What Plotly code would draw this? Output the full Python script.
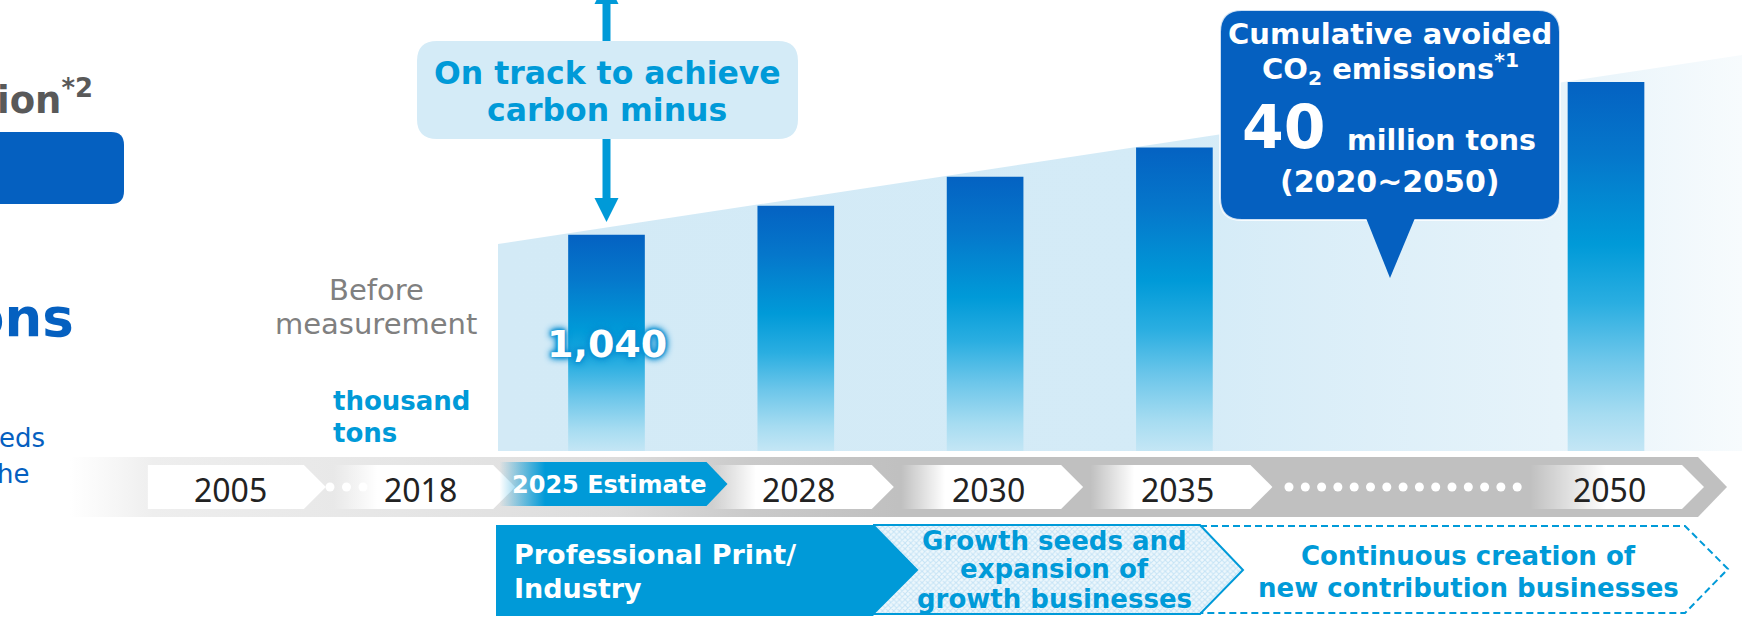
import plotly.graph_objects as go

# ---------------- data ----------------
timeline_labels = ["2005", "2018", "2025 Estimate", "2028", "2030", "2035", "2050"]
bar_categories = ["2025 Estimate", "2028", "2030", "2035", "2050"]
bar_values = [1040, 1180, 1320, 1460, 1775]          # thousand tons
bar_value_label = "1,040"
unit_lines = ["thousand", "tons"]
before_lines = ["Before", "measurement"]
callout1_lines = ["On track to achieve", "carbon minus"]
callout2_lines = ["Cumulative avoided", "CO<sub>2</sub> emissions<sup>*1</sup>", "40", "million tons", "(2020~2050)"]
phase1_lines = ["Professional Print/", "Industry"]
phase2_lines = ["Growth seeds and", "expansion of", "growth businesses"]
phase3_lines = ["Continuous creation of", "new contribution businesses"]

# ---------------- layout constants ----------------
W, H = 1742, 621
SLOT_PX = 189.3          # pixels per timeline slot
X0 = 606.5               # pixel centre of slot 0
BASE = 451               # pixel row of value 0
Y_TOP = 2170             # value at top edge of figure
SLOT = {"2005": -2, "2018": -1, "2025 Estimate": 0, "2028": 1, "2030": 2, "2035": 3, "2050": 5.28}
BAR_W = 0.405            # bar width in slots

K = Y_TOP / BASE


def sx(slot):
    return X0 + slot * SLOT_PX


BLUE = "#009ad8"
DARK = "#0560c0"
DJ = "DejaVu Sans"

fig = go.Figure()

# background area behind bars
fig.add_trace(go.Scatter(
    x=[498, 498, 1742, 1742, 498], y=[BASE, 244, 55, BASE, BASE], mode="lines", fill="toself",
    line=dict(width=0), fillgradient=dict(type="horizontal", colorscale=[
        [0, "#d3eaf6"], [0.55, "#d4ebf7"], [0.85, "#e6f3fa"], [1, "#f7fbfd"]]),
    hoverinfo="skip"))

# grey timeline band
fig.add_trace(go.Scatter(
    x=[70, 1698, 1727, 1698, 70, 70], y=[457, 457, 487, 517, 517, 457], mode="lines", fill="toself",
    line=dict(width=0), fillgradient=dict(type="horizontal", colorscale=[
        [0, "rgba(240,240,240,0)"], [0.05, "#eeeeee"], [0.2, "#e6e6e6"], [0.33, "#dcdcdc"],
        [0.41, "#cacaca"], [0.5, "#c0c0c0"], [1, "#c0c0c0"]]),
    hoverinfo="skip"))

# white chevrons for each year (left side fades in)
for lab in timeline_labels:
    if lab == "2025 Estimate":
        continue
    c = sx(SLOT[lab])
    if lab == "2005":
        left, white = c - 80, c - 80
    elif lab == "2050":
        left, white = c - 76, c
    else:
        left, white = c - 84, c - 40
    right, tip = c + 76, c + 98
    frac = (white - left) / (tip - left)
    cs = [[0, "rgba(255,255,255,0)" if frac > 0 else "white"], [max(frac, 0.001), "white"], [1, "white"]]
    fig.add_trace(go.Scatter(
        x=[left, right, tip, right, left, left], y=[465, 465, 487, 509, 509, 465], mode="lines",
        fill="toself", line=dict(width=0), fillgradient=dict(type="horizontal", colorscale=cs),
        hoverinfo="skip"))

# blue "2025 Estimate" chevron
c = sx(SLOT["2025 Estimate"])
fig.add_trace(go.Scatter(
    x=[c - 107, c + 100, c + 121, c + 100, c - 107, c - 107], y=[462, 462, 484, 506, 506, 462],
    mode="lines", fill="toself", line=dict(width=0),
    fillgradient=dict(type="horizontal", colorscale=[[0, "rgba(0,154,216,0)"], [0.2, BLUE], [1, BLUE]]),
    hoverinfo="skip"))

# dots
dots_x = [330 + 16.5 * i for i in range(3)] + [1289 + 16.3 * i for i in range(15)]
fig.add_trace(go.Scatter(x=dots_x, y=[487] * len(dots_x), mode="markers",
                         marker=dict(color="white", size=9, line=dict(width=0)), hoverinfo="skip"))

# business phase boxes
fig.add_trace(go.Scatter(
    x=[496, 873, 917, 873, 496, 496], y=[525, 525, 570, 616, 616, 525], mode="lines", fill="toself",
    fillcolor=BLUE, line=dict(width=0), hoverinfo="skip"))
fig.add_trace(go.Scatter(
    x=[873, 1200, 1243, 1200, 873, 917, 873], y=[525, 525, 570, 614, 614, 570, 525], mode="lines",
    fill="toself", fillcolor="#d9edf9",
    fillpattern=dict(shape="x", size=4, solidity=0.45, fgcolor="#9ccff0", bgcolor="#eef7fc"),
    line=dict(width=2, color=BLUE), hoverinfo="skip"))
fig.add_trace(go.Scatter(
    x=[1200, 1685, 1728, 1685, 1200], y=[526, 526, 569, 613, 613], mode="lines",
    line=dict(width=2, color=BLUE, dash="7px,4px"), hoverinfo="skip"))

# bars (data axes)
for cat, v in zip(bar_categories, bar_values):
    s = SLOT[cat]
    fig.add_trace(go.Scatter(
        x=[s - BAR_W / 2, s + BAR_W / 2, s + BAR_W / 2, s - BAR_W / 2, s - BAR_W / 2],
        y=[0, 0, v, v, 0], mode="lines", fill="toself", line=dict(width=0),
        fillgradient=dict(type="vertical", colorscale=[
            [0, "#c4e6f5"], [0.1, "#a6dcf1"], [0.25, "#6cc6ea"], [0.4, "#2aaee1"],
            [0.56, "#009ad8"], [0.8, "#0577cb"], [1, "#0462c2"]]),
        xaxis="x2", yaxis="y2", name=cat, hoverinfo="skip"))

# ---------------- shapes ----------------


def rrect(x0, y0, x1, y1, r):
    return (f"M {x0 + r},{y0} H {x1 - r} Q {x1},{y0} {x1},{y0 + r} V {y1 - r} Q {x1},{y1} {x1 - r},{y1} "
            f"H {x0 + r} Q {x0},{y1} {x0},{y1 - r} V {y0 + r} Q {x0},{y0} {x0 + r},{y0} Z")


shapes = []
# left blue box
shapes.append(dict(type="path", path=rrect(-30, 132, 124, 204, 13), fillcolor=DARK, line=dict(width=0),
                   xref="x", yref="y", layer="above"))
# callout 1
shapes.append(dict(type="path", path=rrect(417, 41, 798, 139, 20), fillcolor="#d4ebf7", line=dict(width=0),
                   xref="x", yref="y", layer="above"))
ax = sx(SLOT["2025 Estimate"])
shapes.append(dict(type="line", x0=ax, x1=ax, y0=-5, y1=41, line=dict(color=BLUE, width=8), xref="x", yref="y"))
shapes.append(dict(type="path", path=f"M {ax - 12},4 L {ax + 12},4 L {ax},-20 Z", fillcolor=BLUE,
                   line=dict(width=0), xref="x", yref="y"))
shapes.append(dict(type="line", x0=ax, x1=ax, y0=139, y1=200, line=dict(color=BLUE, width=8), xref="x", yref="y"))
shapes.append(dict(type="path", path=f"M {ax - 12},198 L {ax + 12},198 L {ax},222 Z", fillcolor=BLUE,
                   line=dict(width=0), xref="x", yref="y"))
# callout 2
shapes.append(dict(type="path", path=rrect(1220, 10, 1560, 220, 22), fillcolor=DARK,
                   line=dict(color="rgba(255,255,255,0.8)", width=2), xref="x", yref="y", layer="above"))
shapes.append(dict(type="path", path="M 1366,218 L 1415,218 L 1390,278 Z", fillcolor=DARK,
                   line=dict(width=0), xref="x", yref="y", layer="above"))

# ---------------- annotations ----------------
ann = []


def txt(x, y, s, size, color, bold=False, family=DJ, xanchor="center", xref="x", yref="y", **kw):
    ann.append(dict(x=x, y=y, text=s, xref=xref, yref=yref, showarrow=False, xanchor=xanchor,
                    yanchor="middle", font=dict(family=family, size=size, color=color,
                                                weight="bold" if bold else "normal", **kw)))


# left cut-off texts
txt(95, 97, "ion<sup>*2</sup>", 37, "#595959", bold=True, xanchor="right")
txt(76, 317, "ons", 53, DARK, bold=True, xanchor="right")
txt(47, 438, "eds", 26, DARK, xanchor="right")
txt(31, 474, "he", 26, DARK, xanchor="right")

# before measurement
txt(376, 290, before_lines[0], 29, "#808080")
txt(376, 324, before_lines[1], 29, "#808080")
# unit
txt(331, 401, unit_lines[0], 26, BLUE, bold=True, xanchor="left")
txt(331, 433, unit_lines[1], 26, BLUE, bold=True, xanchor="left")

# bar value label
txt(SLOT["2025 Estimate"], 344, bar_value_label, 38, "white", bold=True, xref="x2",
    shadow="0px 0px 3px #0a8fd2, 0px 0px 5px #0a8fd2, 0px 0px 7px #0a8fd2, 0px 0px 9px #0a8fd2")

# timeline labels
for lab in timeline_labels:
    if lab == "2025 Estimate":
        ann.append(dict(x=SLOT[lab], y=485, xref="x2", yref="y", text=lab, showarrow=False,
                        xshift=2, font=dict(family=DJ, size=24, color="white", weight="bold")))
    else:
        ann.append(dict(x=SLOT[lab], y=489, xref="x2", yref="y", text=lab, showarrow=False,
                        xshift=3, font=dict(family="Noto Sans", size=32, color="#222222")))

# callout 1 text
txt(607, 73, callout1_lines[0], 31.5, BLUE, bold=True)
txt(607, 110, callout1_lines[1], 31.5, BLUE, bold=True)

# callout 2 text
txt(1390, 34, callout2_lines[0], 29, "white", bold=True)
txt(1390, 69, callout2_lines[1], 29, "white", bold=True)
txt(1284, 127, callout2_lines[2], 60, "white", bold=True)
txt(1441, 140, callout2_lines[3], 28.5, "white", bold=True)
txt(1390, 181, callout2_lines[4], 30, "white", bold=True)

# phase texts
txt(512, 554, phase1_lines[0], 27, "white", bold=True, xanchor="left")
txt(512, 588, phase1_lines[1], 27, "white", bold=True, xanchor="left")
for s, yy in zip(phase2_lines, [541, 569, 599]):
    txt(1054, yy, s, 26, BLUE, bold=True)
for s, yy in zip(phase3_lines, [556, 588]):
    txt(1468, yy, s, 26, BLUE, bold=True)

fig.update_layout(
    width=W, height=H, margin=dict(l=0, r=0, t=0, b=0, pad=0),
    paper_bgcolor="white", plot_bgcolor="white", showlegend=False, hovermode=False,
    xaxis=dict(range=[0, W], visible=False, fixedrange=True, domain=[0, 1]),
    yaxis=dict(range=[H, 0], visible=False, fixedrange=True, domain=[0, 1]),
    xaxis2=dict(range=[-X0 / SLOT_PX, (W - X0) / SLOT_PX], overlaying="x", visible=False, fixedrange=True),
    yaxis2=dict(range=[-(H - BASE) * K, Y_TOP], overlaying="y", visible=False, fixedrange=True),
    shapes=shapes, annotations=ann,
)

fig.write_html("out.html")
